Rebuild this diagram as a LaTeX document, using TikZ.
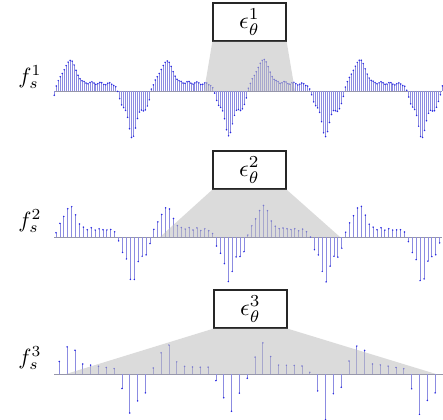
\documentclass[tikz,border=0pt]{standalone}
\usepackage{graphicx}
\usepackage{amsmath}
\definecolor{stemc}{RGB}{140,140,225}
\definecolor{dotc}{RGB}{40,40,225}
\definecolor{axisc}{RGB}{150,150,170}
\definecolor{shadec}{RGB}{190,190,190}
\tikzset{
  stemline/.style={draw=stemc,line width=0.8pt},
  dotmark/.style={fill=dotc},
  axisline/.style={draw=axisc,line width=0.9pt},
  shadefill/.style={fill=shadec,fill opacity=0.55},
  ebox/.style={draw=black!85,line width=1.3pt,fill=white,minimum width=73pt,minimum height=38pt,inner sep=0pt},
  lab/.style={inner sep=0pt}
}
\newcommand\labq[1]{\scalebox{2.2}{$#1$}}
\newcommand\boxq[1]{\scalebox{2.4}{$#1$}}
\newcommand\myrow[4]{%
  \draw[stemline] foreach \kq in {0,...,#4}{
    ({#2+#3*\kq},#1) -- ({#2+#3*\kq},{#1-val(#2+#3*\kq)}) };
  \fill[dotmark] foreach \kq in {0,...,#4}{
    ({#2+#3*\kq},{#1-val(#2+#3*\kq)}) circle[radius=0.85pt] };
}
\begin{document}
\begin{tikzpicture}[x=1pt,y=-1pt,
  declare function={
    upq(\tw,\aw,\sw)=1/(1+exp(max(-9,min(9,-(\tw-\aw)/\sw))));
    dnq(\tw,\aw,\sw)=1/(1+exp(max(-9,min(9,(\tw-\aw)/\sw))));
    gsq(\zw)=exp(-min(25,\zw*\zw));
    wave(\tw)=(11-7*\tw)*upq(\tw,0.025,0.012)*dnq(\tw,0.645,0.012)
      +21*gsq((\tw-0.17)/(0.085*(\tw<0.17)+0.07*(1-(\tw<0.17))))
      +1.2*sin(3960*\tw)*upq(\tw,0.3,0.01)*dnq(\tw,0.62,0.01)
      -16*upq(\tw,0.675,0.012)*dnq(\tw,0.985,0.012)
      -30*gsq((\tw-0.805)/(0.045*(\tw<0.805)+0.055*(1-(\tw<0.805))))
      -4*gsq((\tw-0.93)/0.03);
    phs(\xw)=(\xw-54.5)/96.5+1;
    val(\xw)=(1+0.03*sin(470*phs(\xw)))*wave(phs(\xw)-floor(phs(\xw)));
  }]
\useasboundingbox (0,0) rectangle (443,419);

% axis end points and shade feet
\coordinate (a1l) at (54,91);  \coordinate (a1r) at (442,91);
\coordinate (a2l) at (54,237); \coordinate (a2r) at (442,237);
\coordinate (a3l) at (54,374); \coordinate (a3r) at (443,374);
\coordinate (b1l) at (204,91);  \coordinate (b1r) at (295,91);
\coordinate (b2l) at (160,237); \coordinate (b2r) at (340,237);
\coordinate (b3l) at (66,374);  \coordinate (b3r) at (436,374);

% signals
\draw[axisline] (a1l) -- (a1r);
\draw[axisline] (a2l) -- (a2r);
\draw[axisline] (a3l) -- (a3r);
\myrow{91}{54.3}{1.98}{196}
\myrow{237}{56}{3.915}{98}
\myrow{374}{59.3}{7.83}{48}

% boxes and labels
\node[ebox] (e1) at (249.5,22) {\boxq{\epsilon_\theta^1}};
\node[ebox] (e2) at (249.5,170) {\boxq{\epsilon_\theta^2}};
\node[ebox] (e3) at (250.5,309) {\boxq{\epsilon_\theta^3}};
\node[lab] (f1) at (30,77) {\labq{f_s^1}};
\node[lab] (f2) at (30,221) {\labq{f_s^2}};
\node[lab] (f3) at (30,358) {\labq{f_s^3}};

% receptive-field shades
\fill[shadefill] (e1.south west) -- (e1.south east) -- (b1r) -- (b1l) -- cycle;
\fill[shadefill] (e2.south west) -- (e2.south east) -- (b2r) -- (b2l) -- cycle;
\fill[shadefill] (e3.south west) -- (e3.south east) -- (b3r) -- (b3l) -- cycle;
\end{tikzpicture}
\end{document}
